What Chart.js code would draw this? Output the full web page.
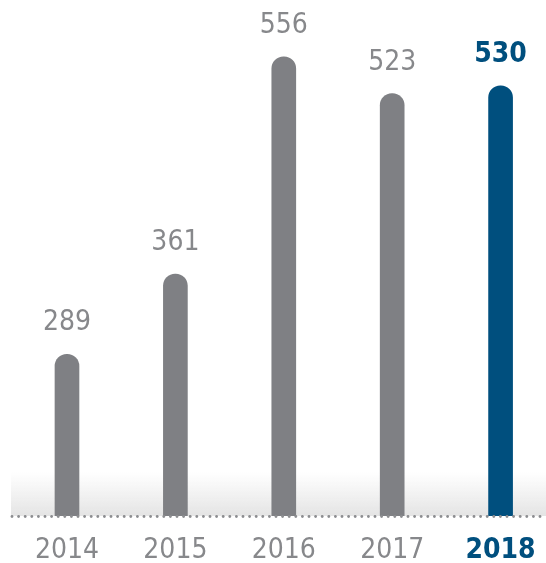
<!DOCTYPE html>
<html>
<head>
<meta charset="utf-8">
<title>Yearly totals</title>
<script src="https://cdn.jsdelivr.net/npm/chart.js@4"></script>
<style>
  html, body { margin: 0; padding: 0; background: #ffffff; overflow: hidden; }
  #wrap { width: 546px; height: 563px; }
</style>
</head>
<body>
<div id="wrap"><canvas id="barChart" width="546" height="563"></canvas></div>
<script>
// ----- Data -----
const years = ['2014', '2015', '2016', '2017', '2018'];
const totals = [289, 361, 556, 523, 530];
const highlightYear = '2018';

// ----- Colours / fonts -----
const GREY_BAR = '#7f8084';
const GREY_TEXT = '#87888b';
const BLUE = '#004f7e';
const FONT = '"DejaVu Sans Condensed", "Liberation Sans Narrow", sans-serif';
const FONT_SIZE = 28;

function isHighlight(i) {
    return years[i] === highlightYear;
}

// Soft grey shading + dotted baseline under the bars
const baselinePlugin = {
    id: 'baseline',
    beforeDatasetsDraw(chart) {
        const { ctx, chartArea } = chart;
        const bottom = chartArea.bottom;
        const grad = ctx.createLinearGradient(0, bottom - 44, 0, bottom);
        grad.addColorStop(0, 'rgba(230,230,230,0)');
        grad.addColorStop(1, 'rgba(228,228,228,1)');
        ctx.save();
        ctx.fillStyle = grad;
        ctx.fillRect(11, bottom - 44, chart.width - 11, 44);
        ctx.restore();
    },
    afterDatasetsDraw(chart) {
        const { ctx, chartArea } = chart;
        const y = chartArea.bottom + 0.5;
        ctx.save();
        ctx.fillStyle = '#8c8d90';
        for (let x = 12; x < chart.width; x += 6.6) {
            ctx.beginPath();
            ctx.arc(x, y, 1.4, 0, Math.PI * 2);
            ctx.fill();
        }
        ctx.restore();
    }
};

// Value labels above each bar
const valueLabels = {
    id: 'valueLabels',
    afterDatasetsDraw(chart) {
        const { ctx } = chart;
        const meta = chart.getDatasetMeta(0);
        ctx.save();
        ctx.textAlign = 'center';
        ctx.textBaseline = 'alphabetic';
        meta.data.forEach(function (bar, i) {
            const hl = isHighlight(i);
            ctx.font = (hl ? 'bold ' : '') + FONT_SIZE + 'px ' + FONT;
            ctx.fillStyle = hl ? BLUE : GREY_TEXT;
            ctx.fillText(String(totals[i]), bar.x, bar.y - 24);
        });
        ctx.restore();
    }
};

const points = years.map((y, i) => ({ x: i, y: totals[i] }));

new Chart(document.getElementById('barChart'), {
    type: 'bar',
    data: {
        datasets: [{
            data: points,
            backgroundColor: years.map((y, i) => isHighlight(i) ? BLUE : GREY_BAR),
            barThickness: 24,
            borderRadius: { topLeft: 12, topRight: 12, bottomLeft: 0, bottomRight: 0 },
            borderSkipped: 'bottom'
        }]
    },
    options: {
        responsive: false,
        devicePixelRatio: 1,
        animation: false,
        layout: { padding: 0 },
        plugins: {
            legend: { display: false },
            tooltip: { enabled: false }
        },
        scales: {
            x: {
                type: 'linear',
                offset: false,
                min: -0.618,
                max: 4.419,
                grid: { display: false, drawTicks: false },
                border: { display: false },
                afterBuildTicks: function (axis) {
                    axis.ticks = years.map((y, i) => ({ value: i }));
                },
                afterFit: function (axis) {
                    axis.height = 47;
                    axis.paddingLeft = 0;
                    axis.paddingRight = 0;
                },
                ticks: {
                    padding: 21,
                    autoSkip: false,
                    maxRotation: 0,
                    callback: function (value) { return years[value]; },
                    color: function (c) { return isHighlight(c.index) ? BLUE : GREY_TEXT; },
                    font: function (c) {
                        return {
                            family: FONT,
                            size: FONT_SIZE,
                            lineHeight: 1,
                            weight: isHighlight(c.index) ? 'bold' : 'normal'
                        };
                    }
                }
            },
            y: {
                display: false,
                min: 144,
                max: 607
            }
        }
    },
    plugins: [baselinePlugin, valueLabels]
});
</script>
</body>
</html>
